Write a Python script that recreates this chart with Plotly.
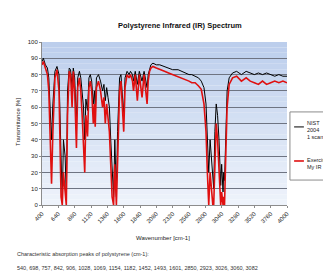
import plotly.graph_objects as go

# ---- data ----
wavenumber = [400, 420, 450, 480, 500, 520, 540, 560, 590, 620, 650, 680, 698, 715, 740, 757, 775,
              800, 820, 842, 860, 880, 906, 925, 950, 970, 990, 1010, 1028, 1045, 1069, 1090, 1110,
              1130, 1154, 1170, 1182, 1200, 1230, 1260, 1290, 1310, 1330, 1350, 1370, 1390, 1410,
              1430, 1452, 1470, 1493, 1510, 1540, 1560, 1583, 1601, 1620, 1650, 1680, 1700, 1730,
              1745, 1770, 1801, 1830, 1870, 1900, 1944, 1960, 1980, 2000, 2030, 2080, 2130, 2200,
              2260, 2320, 2400, 2460, 2520, 2560, 2600, 2650, 2700, 2740, 2780, 2810, 2830, 2850,
              2870, 2890, 2910, 2923, 2940, 2960, 2980, 3001, 3026, 3040, 3060, 3070, 3082, 3100,
              3120, 3150, 3200, 3260, 3330, 3400, 3460, 3520, 3580, 3640, 3700, 3760, 3820, 3880,
              3940, 4000]
nist_2004 = [88, 90, 86, 84, 78, 60, 40, 62, 82, 85, 80, 30, 3, 40, 30, 5, 70,
             84, 83, 72, 84, 78, 50, 78, 82, 78, 70, 60, 40, 65, 58, 78, 80,
             76, 62, 70, 60, 78, 80, 76, 70, 74, 64, 72, 66, 60, 40,
             20, 5, 40, 5, 45, 78, 80, 68, 55, 78, 82, 80, 82, 80,
             76, 82, 74, 82, 76, 82, 72, 80, 84, 86, 87, 86, 86, 85,
             84, 83, 83, 82, 81, 80, 80, 79, 78, 76, 72, 62, 45, 20,
             40, 30, 15, 10, 45, 62, 55, 40, 12, 25, 8, 20, 15, 45,
             70, 78, 81, 82, 80, 82, 81, 80, 81, 80, 81, 80, 79, 80,
             79, 79]
exercise = [86, 88, 84, 80, 70, 40, 13, 45, 78, 83, 70, 5, 0, 20, 8, 0, 55,
            82, 80, 60, 82, 70, 35, 72, 78, 70, 55, 40, 20, 55, 42, 72, 76,
            70, 50, 62, 48, 72, 76, 70, 60, 66, 50, 62, 55, 45, 25,
            5, 0, 25, 0, 30, 70, 76, 58, 45, 72, 80, 78, 80, 76,
            70, 80, 64, 80, 66, 80, 62, 76, 82, 84, 85, 84, 83, 82,
            81, 80, 79, 78, 77, 76, 75, 75, 73, 71, 62, 45, 20, 0,
            20, 10, 0, 0, 30, 50, 40, 20, 0, 8, 0, 5, 0, 30,
            60, 74, 78, 79, 76, 78, 76, 75, 74, 76, 74, 75, 76, 75,
            76, 75]
x_tick_vals = [400, 640, 880, 1120, 1360, 1600, 1840, 2080, 2320, 2560, 2800, 3040, 3280, 3520, 3760, 4000]
x_tick_text = [str(v) for v in x_tick_vals]
y_tick_vals = [0, 10, 20, 30, 40, 50, 60, 70, 80, 90, 100]

title_text = "<b>Polystyrene Infrared (IR) Spectrum</b>"
x_title = "Wavenumber [cm-1]"
y_title = "Transmittance [%]"
legend_names = ["NIST<br>2004<br>1 scan", "Exercise<br>My IR"]
note_line1 = "Characteristic absorption peaks of polystyrene (cm-1):"
note_line2 = "540, 698, 757, 842, 906, 1028, 1069, 1154, 1182, 1452, 1493, 1601, 2850, 2923, 3026, 3060, 3082"

FONT = "Liberation Sans, Arial, sans-serif"

fig = go.Figure()
fig.add_trace(go.Scatter(x=wavenumber, y=nist_2004, mode="lines", name="NIST 2004",
                         line=dict(color="#000000", width=1), showlegend=False))
fig.add_trace(go.Scatter(x=wavenumber, y=exercise, mode="lines", name="Exercise",
                         line=dict(color="#e01010", width=1.6), showlegend=False))

# gradient plot background (stripes)
top = (188, 206, 236)
bot = (238, 243, 251)
n = 30
for i in range(n):
    t = i / (n - 1)
    c = tuple(int(round(top[k] + (bot[k] - top[k]) * t)) for k in range(3))
    fig.add_shape(type="rect", xref="x domain", yref="y domain",
                  x0=0, x1=1, y0=1 - (i + 1) / n, y1=1 - i / n,
                  fillcolor="rgb(%d,%d,%d)" % c, line=dict(width=0), layer="below")

# manual legend
fig.add_shape(type="rect", xref="paper", yref="paper", x0=1.012, x1=1.25, y0=0.153, y1=0.571,
              line=dict(color="#8c8c8c", width=1), fillcolor="white")
fig.add_shape(type="line", xref="paper", yref="paper", x0=1.029, x1=1.069, y0=0.479, y1=0.479,
              line=dict(color="#000000", width=1))
fig.add_shape(type="line", xref="paper", yref="paper", x0=1.029, x1=1.069, y0=0.27, y1=0.27,
              line=dict(color="#e01010", width=1.6))
fig.add_annotation(xref="paper", yref="paper", x=1.073, y=0.46, text=legend_names[0],
                   showarrow=False, xanchor="left", yanchor="middle", align="left",
                   font=dict(family=FONT, size=5.5, color="#222"))
fig.add_annotation(xref="paper", yref="paper", x=1.073, y=0.255, text=legend_names[1],
                   showarrow=False, xanchor="left", yanchor="middle", align="left",
                   font=dict(family=FONT, size=5.5, color="#222"))

# titles and notes
fig.add_annotation(xref="paper", yref="paper", x=0.563, y=1.104, text=title_text, showarrow=False,
                   xanchor="center", yanchor="middle", font=dict(family=FONT, size=7.5, color="#111"))
fig.add_annotation(xref="paper", yref="paper", x=-0.098, y=0.509, text=y_title, showarrow=False,
                   textangle=-90, xanchor="center", yanchor="middle",
                   font=dict(family=FONT, size=6, color="#222"))
fig.add_annotation(xref="paper", yref="paper", x=0.494, y=-0.202, text=x_title, showarrow=False,
                   xanchor="center", yanchor="middle", font=dict(family=FONT, size=6, color="#222"))
fig.add_annotation(xref="paper", yref="paper", x=-0.11, y=-0.30, text=note_line1, showarrow=False,
                   xanchor="left", yanchor="middle", font=dict(family=FONT, size=5.5, color="#333"))
fig.add_annotation(xref="paper", yref="paper", x=-0.11, y=-0.385, text=note_line2, showarrow=False,
                   xanchor="left", yanchor="middle", font=dict(family=FONT, size=5.5, color="#333"))

# the page body adds an 8px offset, so the figure is 8px smaller than the window
fig.update_layout(
    width=323, height=265,
    margin=dict(l=34, r=44, t=34, b=68),
    paper_bgcolor="white", plot_bgcolor="rgba(0,0,0,0)",
    font=dict(family=FONT, size=6, color="#222"),
    showlegend=False,
)
fig.update_xaxes(range=[400, 4000], tickvals=x_tick_vals, ticktext=x_tick_text, tickangle=-45,
                 showgrid=False, zeroline=False, showline=True, linecolor="#8c8c8c", linewidth=1,
                 ticks="outside", ticklen=2, tickcolor="#8c8c8c", tickfont=dict(size=6))
fig.update_yaxes(range=[0, 100], tickvals=y_tick_vals, showgrid=True, gridcolor="#6e7482",
                 gridwidth=1, zeroline=False, showline=True, linecolor="#8c8c8c", linewidth=1,
                 ticks="outside", ticklen=2, tickcolor="#8c8c8c", tickfont=dict(size=6))

fig.write_html("out.html")
